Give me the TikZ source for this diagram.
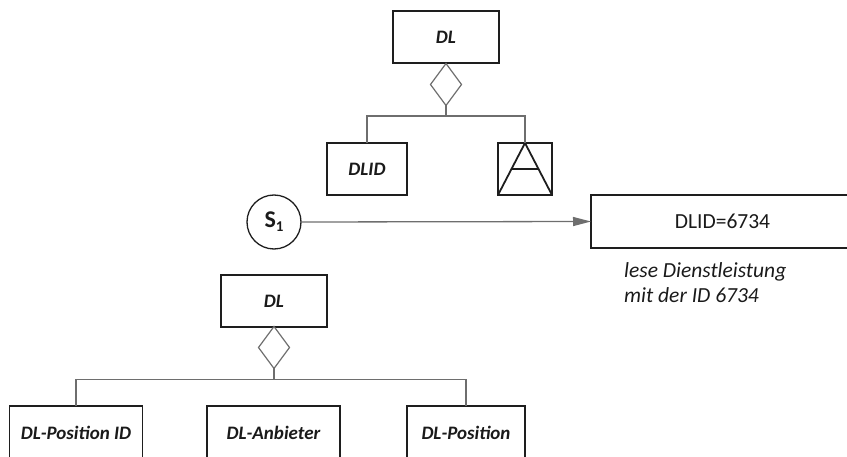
\documentclass[tikz,border=0pt]{standalone}
\usepackage{fontspec}
\setmainfont{Carlito}
\usetikzlibrary{shapes.geometric,arrows.meta,calc}
\definecolor{boxline}{HTML}{1E1E1E}
\definecolor{connline}{HTML}{6E6E6E}
\definecolor{ink}{HTML}{1A1A1A}
\begin{document}
\begin{tikzpicture}[x=1pt,y=-1pt,
  entity/.style={draw=boxline, line width=1.8pt, rectangle, inner sep=0pt, outer sep=0pt,
    minimum height=52pt, text=ink, font=\fontsize{19}{20}\selectfont\bfseries\itshape},
  conn/.style={draw=connline, line width=1.3pt},
  rel/.style={diamond, draw=connline, line width=1.2pt, inner sep=0pt, outer sep=0pt,
    minimum width=31pt, minimum height=42pt},
  state/.style={circle, draw=boxline, line width=1.3pt, minimum size=54pt, inner sep=0pt,
    outer sep=0pt, text=ink},
  query/.style={draw=boxline, line width=1.4pt, inner sep=0pt, outer sep=0pt,
    minimum width=263pt, minimum height=53pt, text=ink, font=\fontsize{21.5}{24}\selectfont},
  note/.style={anchor=base west, inner sep=0pt, text=ink, font=\fontsize{21.5}{25}\selectfont\itshape}]
\clip (0,0) rectangle (847,457);

% upper entity type with its key and attribute
\node[entity, minimum width=106pt] (dl1) at (446,37) {DL};
\node[rel] (r1) at (446,84.5) {};
\node[entity, minimum width=80pt] (dlid) at (367,169) {DLID};
\node[entity, minimum width=54pt] (attr) at (525,169) {};
\draw[boxline, line width=1.8pt, line join=miter] (attr.south west) -- (attr.north) -- (attr.south east);
\draw[boxline, line width=1.8pt] ($(attr.south west)!0.5!(attr.north)$) -- ($(attr.south east)!0.5!(attr.north)$);
\coordinate (bar1) at (446,116);
\draw[conn] (r1.south) -- (bar1);
\draw[conn] (dlid.north) |- (bar1) -| (attr.north);

% state and query
\node[state] (s1) at (274,222) {{\fontsize{24}{24}\selectfont\bfseries S}\raisebox{-4pt}{\fontsize{15}{15}\selectfont\bfseries 1}};
\node[query] (q) at (722.5,221.5) {DLID=6734};
\draw[conn, -{Triangle[length=18pt,width=9pt]}] (s1.east) -- (q.west);
\node[note] (note1) at (624,278) {lese Dienstleistung};
\node[note] (note2) at (624,303) {mit der ID 6734};

% lower entity type with its attributes
\node[entity, minimum width=106pt] (dl2) at (274,301) {DL};
\node[rel] (r2) at (274,347.5) {};
\coordinate (bar2) at (274,379.5);
\node[entity, minimum width=133pt, minimum height=53pt] (pid) at (76,432.5) {DL-Position ID};
\node[entity, minimum width=133pt, minimum height=53pt] (anb) at (273.5,432.5) {DL-Anbieter};
\node[entity, minimum width=118pt, minimum height=53pt] (pos) at (466,432.5) {DL-Position};
\draw[conn] (r2.south) -- (bar2);
\draw[conn] (pid.north) |- (bar2) -| (pos.north);
\end{tikzpicture}
\end{document}
